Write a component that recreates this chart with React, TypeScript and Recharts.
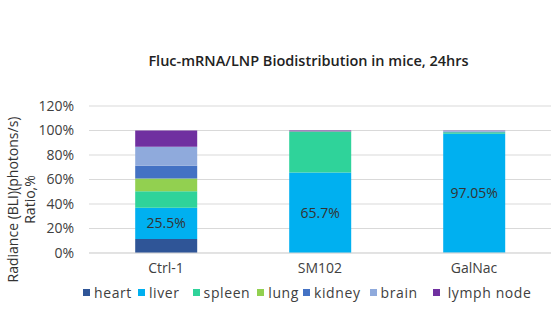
import React from "react";
import {
  Bar,
  BarChart,
  CartesianGrid,
  LabelList,
  Legend,
  XAxis,
  YAxis,
} from "recharts";

const groups = ["Ctrl-1", "SM102", "GalNac"];
const organs = ["heart", "liver", "spleen", "lung", "kidney", "brain", "lymph node"];
const organColors = ["#2F5597", "#00B0F0", "#2FD39A", "#92D050", "#4472C4", "#8FAADC", "#7030A0"];

// percent of total radiance per organ, one array per organ (Ctrl-1, SM102, GalNac)
const heart = [11.5, 0.1, 0.3];
const liver = [25.5, 65.7, 97.05];
const spleen = [13.5, 33.2, 1.2];
const lung = [10.3, 0.2, 0.1];
const kidney = [10.5, 0.1, 0.3];
const brain = [15.4, 0.1, 0.8];
const lymphNode = [13.3, 0.6, 0.25];

const yTicks = [0, 20, 40, 60, 80, 100, 120];

const series = [heart, liver, spleen, lung, kidney, brain, lymphNode];

const data = groups.map((g, i) => {
  const row: Record<string, string | number> = { group: g };
  organs.forEach((o, k) => {
    row[o] = series[k][i];
  });
  return row;
});

const FONT = "'Open Sans', sans-serif";
const legendGaps = [0, 6, 13, 7, 4, 9, 15];

function AxisTitle(props: any) {
  const { viewBox } = props;
  const cy = viewBox.y + viewBox.height / 2 + 20;
  return (
    <text
      transform={`rotate(-90, 0, ${cy})`}
      x={0}
      y={cy}
      textAnchor="middle"
      fill="#333"
      fontSize={14}
      fontFamily={FONT}
    >
      <tspan x={0} dy={18}>Radiance (BLI)(photons/s)</tspan>
      <tspan x={0} dy={17}>Ratio,%</tspan>
    </text>
  );
}

function OrganLegend() {
  return (
    <div style={{ display: "flex", alignItems: "center", paddingLeft: 83, fontSize: 14, color: "#404040", fontFamily: FONT, letterSpacing: 0.6 }}>
      {organs.map((o, k) => (
        <div key={o} style={{ display: "flex", alignItems: "center", marginLeft: legendGaps[k] }}>
          <span style={{ width: 7, height: 7, background: organColors[k], display: "inline-block", marginRight: k === 6 ? 8 : 4 }} />
          <span>{o}</span>
        </div>
      ))}
    </div>
  );
}

export default function App() {
  return (
    <div style={{ position: "absolute", left: 0, top: 0, width: 553, height: 323, background: "#fff", fontFamily: FONT }}>
      <div
        style={{
          position: "absolute",
          top: 51,
          width: 553,
          left: 32,
          textAlign: "center",
          fontSize: 14.5,
          fontWeight: 600,
          color: "#222",
        }}
      >
        Fluc-mRNA/LNP Biodistribution in mice, 24hrs
      </div>
      <BarChart
        width={553}
        height={323}
        data={data}
        margin={{ top: 106, right: 2, bottom: 21, left: 0 }}
        barCategoryGap="30%"
      >
        <CartesianGrid vertical={false} stroke="#d9d9d9" />
        <XAxis
          dataKey="group"
          tickLine={false}
          axisLine={{ stroke: "#d9d9d9" }}
          tick={{ fill: "#404040", fontSize: 14, fontFamily: FONT }}
          tickMargin={4}
        />
        <YAxis
          domain={[0, 120]}
          ticks={yTicks}
          tickFormatter={(v) => `${v}%`}
          axisLine={false}
          tickLine={false}
          width={89}
          tick={{ fill: "#404040", fontSize: 14, fontFamily: FONT }}
          tickMargin={9}
          label={<AxisTitle />}
        />
        <Legend verticalAlign="bottom" content={<OrganLegend />} />
        {organs.map((o, k) => (
          <Bar key={o} dataKey={o} stackId="a" fill={organColors[k]} isAnimationActive={false}>
            {o === "liver" && (
              <LabelList
                dataKey="liver"
                position="center"
                formatter={(v: any) => `${v}%`}
                style={{ fill: "#333", fontSize: 14, fontFamily: FONT }}
              />
            )}
          </Bar>
        ))}
      </BarChart>
    </div>
  );
}
